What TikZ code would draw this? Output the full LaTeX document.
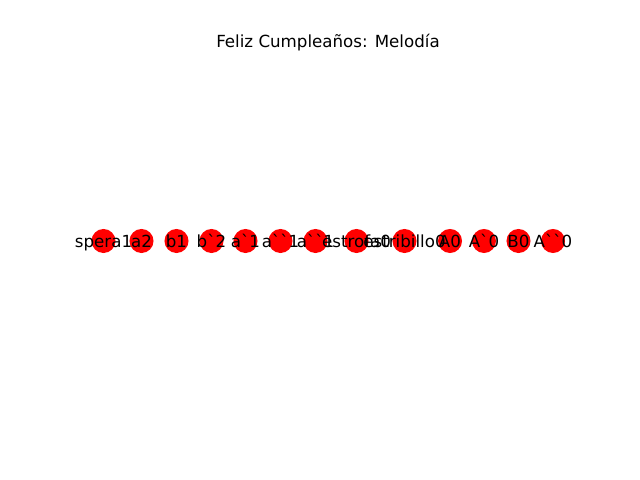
\documentclass[tikz,border=0pt]{standalone}
\usepackage{fontspec}
\setmainfont{DejaVu Sans}[Ligatures=TeXOff]
\begin{document}
\begin{tikzpicture}
		[x=0.01in, y=-0.01in,
		mynode/.style={
			circle,
			fill=red,
			inner sep=0pt,
			minimum size=0.24in
		},
		lbl/.style={anchor=base,inner sep=0pt,font=\fontsize{12.045}{14}\selectfont,yshift=-0.065in}]
		\useasboundingbox (0,0) rectangle (640,480);
		\node[anchor=base,inner sep=0pt,font=\fontsize{12.045}{14}\selectfont] (title) at (328,47.5) {Feliz Cumpleaños: Melodía};
		% notas
		\node[mynode] (spera1) at (103.5,241) {};
		\node[mynode] (a2) at (141.5,241) {};
		\node[mynode] (b1) at (176.5,241) {};
		\node[mynode] (b2) at (211.5,241) {};
		\node[mynode] (aa1) at (245.5,241) {};
		\node[mynode] (aaa1) at (280.5,241) {};
		\node[mynode] (aaaa1) at (315.5,241) {};
		\node[mynode] (estrofa0) at (356.5,241) {};
		\node[mynode] (estribillo0) at (404.5,241) {};
		\node[mynode] (A0) at (450,241) {};
		\node[mynode] (AA0) at (484,241) {};
		\node[mynode] (B0) at (518.5,241) {};
		\node[mynode] (AAA0) at (553,241) {};
		% etiquetas
		\node[lbl] at (spera1) {spera1};
		\node[lbl] at (a2) {a2};
		\node[lbl] at (b1) {b1};
		\node[lbl] at (b2) {b`2};
		\node[lbl] at (aa1) {a`1};
		\node[lbl] at (aaa1) {a``1};
		\node[lbl] at (aaaa1) {a``1};
		\node[lbl] at (estrofa0) {estrofa0};
		\node[lbl] at (estribillo0) {estribillo0};
		\node[lbl] at (A0) {A0};
		\node[lbl] at (AA0) {A`0};
		\node[lbl] at (B0) {B0};
		\node[lbl] at (AAA0) {A``0};
	\end{tikzpicture}
\end{document}
